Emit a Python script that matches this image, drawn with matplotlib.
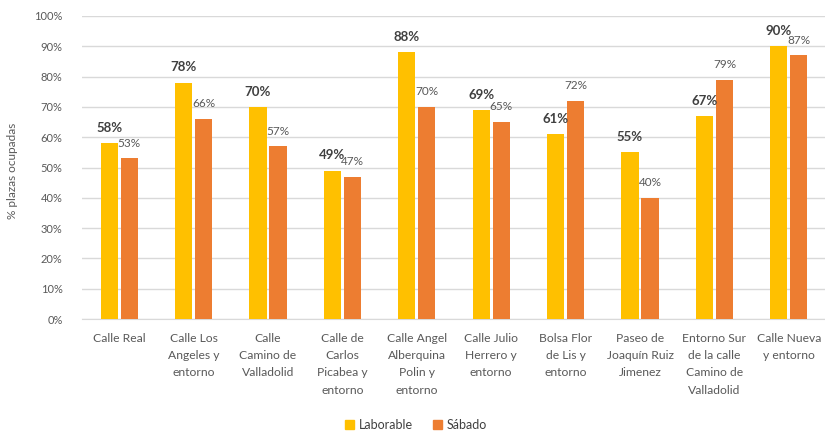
import matplotlib
matplotlib.use("Agg")
import matplotlib.pyplot as plt
import numpy as np
from matplotlib.patches import Patch

plt.rcParams['font.family'] = ['Lato', 'DejaVu Sans']

categories = [
    "Calle Real",
    "Calle Los\nAngeles y\nentorno",
    "Calle\nCamino de\nValladolid",
    "Calle de\nCarlos\nPicabea y\nentorno",
    "Calle Angel\nAlberquina\nPolin y\nentorno",
    "Calle Julio\nHerrero y\nentorno",
    "Bolsa Flor\nde Lis y\nentorno",
    "Paseo de\nJoaquín Ruiz\nJimenez",
    "Entorno Sur\nde la calle\nCamino de\nValladolid",
    "Calle Nueva\ny entorno",
]
laborable = [58, 78, 70, 49, 88, 69, 61, 55, 67, 90]
sabado = [53, 66, 57, 47, 70, 65, 72, 40, 79, 87]
series_names = ["Laborable", "Sábado"]
yticks = [0, 10, 20, 30, 40, 50, 60, 70, 80, 90, 100]

c_lab = "#FFC000"
c_sab = "#ED7D31"
grid_c = "#D9D9D9"
text_c = "#595959"

fig = plt.figure(figsize=(8.25, 4.32), dpi=100)
ax = fig.add_axes([82 / 825, 1 - 319 / 432, 744 / 825, 303 / 432])

x = np.arange(len(categories))
w = 0.23
gap = 0.02
b1 = ax.bar(x - w / 2 - gap, laborable, w, color=c_lab, zorder=3)
b2 = ax.bar(x + w / 2 + gap, sabado, w, color=c_sab, zorder=3)

for rect, v in zip(b1, laborable):
    ax.annotate(f"{v}%", (rect.get_x() + rect.get_width() / 2, v),
                xytext=(0, 11), textcoords="offset points",
                ha="center", va="center", fontsize=9.5, fontweight="bold",
                color="#404040", zorder=4)
for rect, v in zip(b2, sabado):
    ax.annotate(f"{v}%", (rect.get_x() + rect.get_width() / 2, v),
                xytext=(0, 11), textcoords="offset points",
                ha="center", va="center", fontsize=8.5,
                color=text_c, zorder=4)

ax.set_xlim(-0.5, len(categories) - 0.5)
ax.set_ylim(0, 100)
ax.set_yticks(yticks)
ax.set_yticklabels([f"{t}%" for t in yticks], fontsize=8, color=text_c)
ax.set_xticks(x)
ax.set_xticklabels(categories, fontsize=8.7, color=text_c, linespacing=1.7,
                   va="top")
ax.tick_params(axis="both", length=0)
ax.tick_params(axis="y", pad=14)
ax.tick_params(axis="x", pad=10)

ax.grid(axis="y", color=grid_c, linewidth=1, zorder=0)
for s in ["top", "right", "left"]:
    ax.spines[s].set_visible(False)
ax.spines["bottom"].set_color(grid_c)
ax.spines["bottom"].set_zorder(0)

ax.set_ylabel("% plazas ocupadas", fontsize=8.5, color=text_c, labelpad=10)
ax.yaxis.set_label_coords(-64 / 744, 0.49)

handles = [Patch(color=c_lab), Patch(color=c_sab)]
fig.legend(handles, series_names, loc="center",
           bbox_to_anchor=(416 / 825, 1 - 425 / 432), ncol=2, frameon=False,
           fontsize=9, handlelength=0.7, handleheight=0.7, handletextpad=0.4,
           columnspacing=1.6, labelcolor="#404040")

fig.savefig("out.png", dpi=100)
